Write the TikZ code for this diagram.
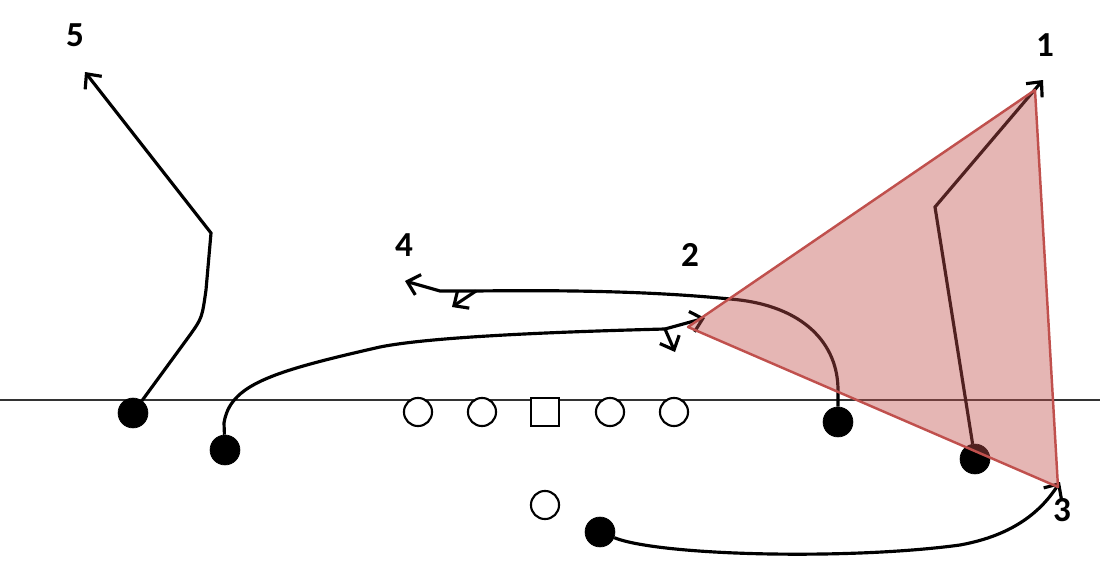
\documentclass[tikz,border=0pt]{standalone}
\usepackage{fontspec}
\setsansfont{Carlito}
\usepackage{tikz}
\usetikzlibrary{arrows.meta}
\definecolor{zonered}{HTML}{C0504D}
\tikzstyle{lineman} = [draw, circle, fill=white, minimum size=16pt, inner sep=0pt, line width=1.2pt]
\tikzstyle{center} = [draw, rectangle, fill=white, minimum size=16pt, inner sep=0pt, line width=1.2pt]
\tikzstyle{skill} = [draw, circle, fill=black, minimum size=17pt, inner sep=0pt]
\tikzstyle{route} = [-{Straight Barb[length=6.5pt,width=12pt,line width=1.8pt]}, line width=1.8pt]
\tikzstyle{los} = [line width=0.8pt, black!80]
\tikzstyle{lbl} = [font=\sffamily\bfseries\fontsize{20}{20}\selectfont]
\tikzstyle{zone} = [draw=zonered, line width=1.4pt, fill=zonered, fill opacity=0.42, line join=round]

\begin{document}
\begin{tikzpicture}[x=0.02cm, y=-0.02cm]
		\useasboundingbox (0,0) rectangle (1100,561);
		\coordinate (losl) at (0,400);
		\coordinate (losr) at (1100,400);
		\draw[los] (losl) -- (losr);
		% line
		\node (lt) [lineman] at (418,412) {};
		\node (lg) [lineman] at (482,412) {};
		\node (c) [center] at (545,412) {};
		\node (rg) [lineman] at (610,412) {};
		\node (rt) [lineman] at (674,412) {};
		\node (qb) [lineman] at (545,505) {};
		% receivers
		\node (r5) [skill] at (133,413) {};
		\node (r2) [skill] at (225,450) {};
		\node (r4) [skill] at (838,422) {};
		\node (r1) [skill] at (975,459) {};
		\node (r3) [skill] at (600,532) {};
		%
		\node (n5) [lbl] at (75,35) {5};
		\node (n1) [lbl] at (1045,45) {1};
		\node (n2) [lbl] at (690,255) {2};
		\node (n3) [lbl] at (1062,510) {3};
		\node (n4) [lbl] at (404,245) {4};
		%
		\coordinate (e5) at (85,72);
		\coordinate (e1) at (1043,80);
		\coordinate (e3) at (1060,482);
		\coordinate (b2) at (665,329);
		\coordinate (e2a) at (705,318);
		\coordinate (e2b) at (675,352);
		\coordinate (b4) at (476,291);
		\coordinate (e4a) at (405,281);
		\coordinate (e4b) at (452,307);
		\draw[route] (r5) -- (190,335) .. controls (202,318) .. (206,290) -- (211,233) -- (e5);
		\draw[route] (r1) -- (935,207) -- (e1);
		\draw[route] (r3) .. controls (660,556) and (850,560) .. (960,545) .. controls (1015,535) and (1042,510) .. (e3);
		\draw[line width=1.8pt] (r2) -- (224,423) .. controls (230,385) and (270,372) .. (380,347) .. controls (430,337) and (550,332) .. (b2);
		\draw[route] (b2) -- (e2a);
		\draw[route] (b2) -- (e2b);
		\draw[route] (r4) -- (838,390) .. controls (838,345) and (805,305) .. (730,299) .. controls (650,291) and (560,290) .. (b4) -- (440,291) -- (e4a);
		\draw[route] (b4) -- (e4b);
		%
		\coordinate (z1) at (688,327);
		\coordinate (z2) at (1035,90);
		\coordinate (z3) at (1058,487);
		\draw[zone] (z1) -- (z2) -- (z3) -- cycle;
\end{tikzpicture}
\end{document}
